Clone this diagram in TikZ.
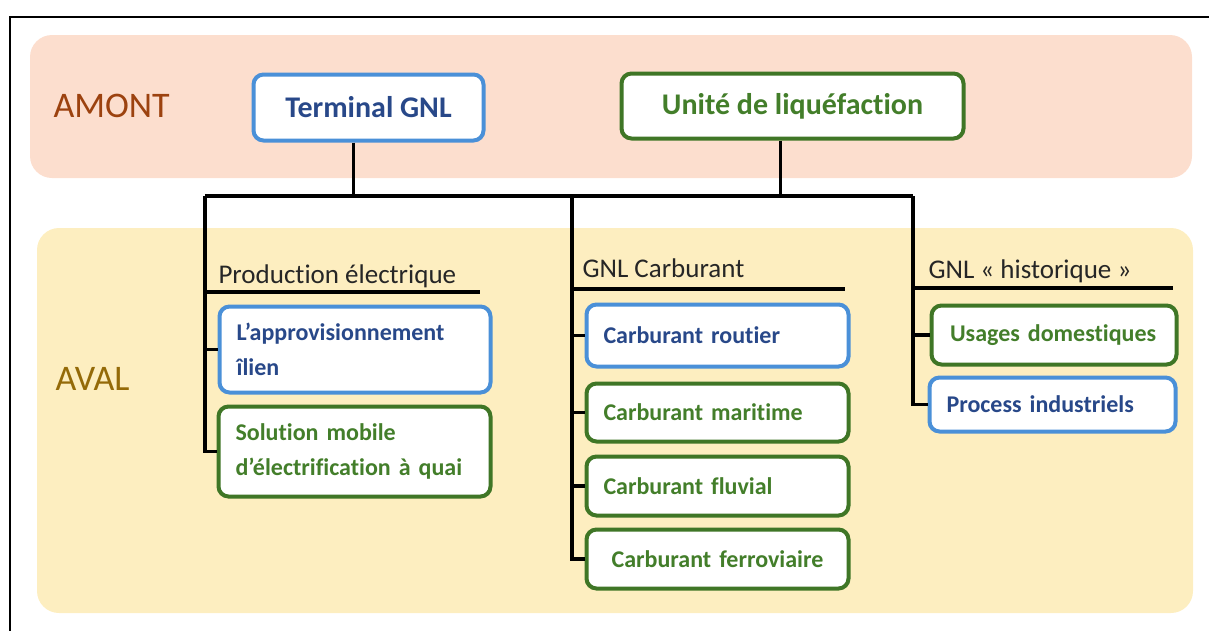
\documentclass[tikz,border=0pt]{standalone}
\usepackage{fontspec}
\setmainfont{Carlito}[Ligatures=NoCommon]

\definecolor{amontfill}{HTML}{FCDECE}
\definecolor{avalfill}{HTML}{FDEEC0}
\definecolor{amonttext}{HTML}{9C420F}
\definecolor{avaltext}{HTML}{946A08}
\definecolor{boxblue}{HTML}{4A90D8}
\definecolor{txtblue}{HTML}{284889}
\definecolor{boxgreen}{HTML}{3F7626}
\definecolor{txtgreen}{HTML}{437E2A}

\begin{document}
\begin{tikzpicture}[x=1pt, y=-1pt,
    band/.style={rounded corners=22pt},
    zone/.style={anchor=base west, font=\fontsize{36}{40}\selectfont},
    box/.style={fill=white, line width=4pt, rounded corners=10pt, inner xsep=17pt, align=left},
    bluebox/.style={box, draw=boxblue, text=txtblue},
    greenbox/.style={box, draw=boxgreen, text=txtgreen},
    topfont/.style={font=\bfseries\fontsize{30}{36}\selectfont, align=center},
    subfont/.style={font=\bfseries\fontsize{24}{35}\selectfont},
    branch/.style={anchor=base west, text=black!85, font=\fontsize{27}{32}\selectfont},
    conn/.style={line width=3.8pt},
    rule/.style={line width=3.5pt}]
    \useasboundingbox (0,0) rectangle (1209,630);
    \clip (0,0) rectangle (1209,630);

    % frame and bands
    \draw[line width=1.5pt] (10,17) rectangle (1230,650);
    \fill[amontfill, band] (30,35) rectangle (1192,178);
    \fill[avalfill, band] (37,228) rectangle (1193,613);
    \node[zone, text=amonttext] (amont) at (50,117) {AMONT};
    \node[zone, text=avaltext] (aval) at (52,390) {AVAL};

    % amont
    \node[bluebox, topfont, minimum width=230pt, minimum height=66pt] (terminal) at (368.5,107.5) {Terminal GNL};
    \node[greenbox, topfont, minimum width=342pt, minimum height=65pt] (liquef) at (792.5,106) {Unité de liquéfaction};

    % bus
    \coordinate (bus west) at (205,196);
    \coordinate (bus mid) at (572,196);
    \coordinate (bus east) at (913,196);
    \draw[conn] ([xshift=-15pt]terminal.south) -- ([xshift=-15pt]terminal.south |- bus west);
    \draw[conn] ([xshift=-12pt]liquef.south) -- ([xshift=-12pt]liquef.south |- bus west);
    \draw[conn] (bus west) -- (bus east);

    % production electrique
    \node[branch] (prod) at (215,283) {Production électrique};
    \draw[rule] (bus west |- 0,292) -- (480,292);
    \node[bluebox, subfont, minimum width=271pt, minimum height=86pt, text width=237pt] (appro) at (355,349.5) {L’approvisionnement\\îlien};
    \node[greenbox, subfont, minimum width=272pt, minimum height=90pt, text width=238pt] (solution) at (354.5,451.5) {Solution mobile\\d’électrification à quai};
    \draw[conn] (bus west) |- (solution.west);
    \draw[conn] (bus west |- appro.west) -- (appro.west);

    % gnl carburant
    \node[branch] (carb) at (579,277) {GNL Carburant};
    \draw[rule] (bus mid |- 0,289) -- (845,289);
    \node[bluebox, subfont, minimum width=262pt, minimum height=62pt, text width=228pt] (routier) at (717.5,335.5) {Carburant routier};
    \node[greenbox, subfont, minimum width=262pt, minimum height=58pt, text width=228pt] (maritime) at (717.5,412.5) {Carburant maritime};
    \node[greenbox, subfont, minimum width=262pt, minimum height=59pt, text width=228pt] (fluvial) at (717.5,486) {Carburant fluvial};
    \node[greenbox, subfont, minimum width=262pt, minimum height=59pt, text width=228pt, align=center] (ferro) at (717.5,559) {Carburant ferroviaire};
    \draw[conn] (bus mid) |- (ferro.west);
    \draw[conn] (bus mid |- routier.west) -- (routier.west);
    \draw[conn] (bus mid |- maritime.west) -- (maritime.west);
    \draw[conn] (bus mid |- fluvial.west) -- (fluvial.west);

    % gnl historique
    \node[branch] (hist) at (925,278) {GNL « historique »};
    \draw[rule] (bus east |- 0,288) -- (1173,288);
    \node[greenbox, subfont, minimum width=245pt, minimum height=59pt, text width=208pt, inner xsep=18.5pt] (usages) at (1054,335) {Usages domestiques};
    \node[bluebox, subfont, minimum width=246pt, minimum height=54pt, text width=212pt] (process) at (1052.5,404.5) {Process industriels};
    \draw[conn] (bus east) |- (process.west);
    \draw[conn] (bus east |- usages.west) -- (usages.west);
\end{tikzpicture}
\end{document}
